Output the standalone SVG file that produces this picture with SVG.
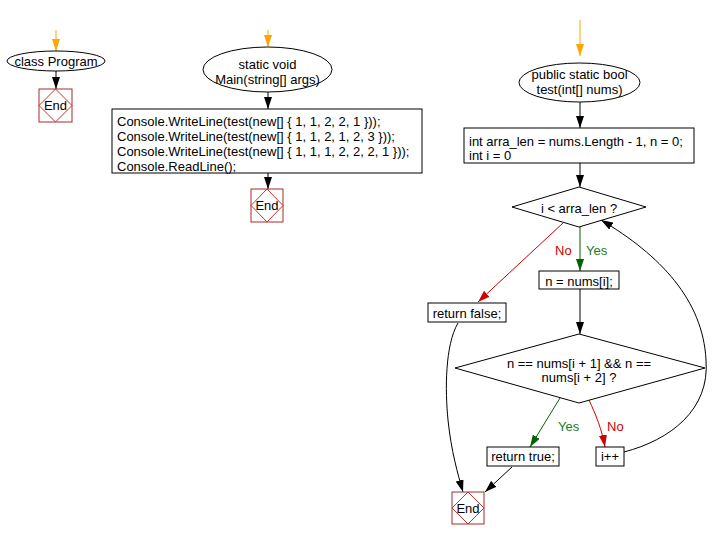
<svg xmlns="http://www.w3.org/2000/svg" width="722" height="540" viewBox="0 0 722 540">
<style>
text{font-family:"Liberation Sans",Arial,sans-serif;font-size:13px;fill:#000}
.s{fill:#fff;stroke:#000;stroke-width:1}
.e{fill:#fff;stroke:#a52a2a;stroke-width:1}
.ed{fill:none;stroke:#c83232;stroke-width:1}
.c{fill:none;stroke:#000;stroke-width:1}
.mid{text-anchor:middle;dominant-baseline:central}
.lft{dominant-baseline:central}
</style>
<defs>
<marker id="ab" viewBox="0 0 12 8" markerWidth="12" markerHeight="8" refX="12" refY="4" orient="auto" markerUnits="userSpaceOnUse"><path d="M0,0 L12,4 L0,8 z" fill="#000"/></marker>
<marker id="ao" viewBox="0 0 12 8" markerWidth="12" markerHeight="8" refX="12" refY="4" orient="auto" markerUnits="userSpaceOnUse"><path d="M0,0 L12,4 L0,8 z" fill="#ffa500"/></marker>
<marker id="ag" viewBox="0 0 12 8" markerWidth="12" markerHeight="8" refX="12" refY="4" orient="auto" markerUnits="userSpaceOnUse"><path d="M0,0 L12,4 L0,8 z" fill="#006400"/></marker>
<marker id="ar" viewBox="0 0 12 8" markerWidth="12" markerHeight="8" refX="12" refY="4" orient="auto" markerUnits="userSpaceOnUse"><path d="M0,0 L12,4 L0,8 z" fill="#d00000"/></marker>
</defs>
<g id="connectors">
<line x1="56" y1="30" x2="56" y2="51" stroke="#ffa500" marker-end="url(#ao)"/>
<line x1="56" y1="71" x2="56" y2="89" class="c" marker-end="url(#ab)"/>
<line x1="268" y1="30" x2="268" y2="47" stroke="#ffa500" marker-end="url(#ao)"/>
<line x1="268" y1="92" x2="268" y2="109" class="c" marker-end="url(#ab)"/>
<line x1="268" y1="173" x2="268" y2="189" class="c" marker-end="url(#ab)"/>
<line x1="580" y1="20" x2="580" y2="56" stroke="#ffa500" marker-end="url(#ao)"/>
<line x1="580" y1="102" x2="580" y2="128" class="c" marker-end="url(#ab)"/>
<line x1="580" y1="163" x2="580" y2="187" class="c" marker-end="url(#ab)"/>
<line x1="580" y1="227" x2="580" y2="271" stroke="#006400" marker-end="url(#ag)"/>
<line x1="563" y1="223" x2="478" y2="302" stroke="#d00000" marker-end="url(#ar)"/>
<line x1="580" y1="289" x2="580" y2="334" class="c" marker-end="url(#ab)"/>
<line x1="560" y1="398" x2="530" y2="447" stroke="#006400" marker-end="url(#ag)"/>
<path d="M589,400 C596,415 602,430 605,447" fill="none" stroke="#d00000" marker-end="url(#ar)"/>
<path d="M624,452 C670,440 710,410 706,360 C703,300 660,255 601,220" class="c" marker-end="url(#ab)"/>
<path d="M458,323 C445,345 445,390 448,420 C451,450 458,475 463,492" class="c" marker-end="url(#ab)"/>
<line x1="512" y1="467" x2="485" y2="492" class="c" marker-end="url(#ab)"/>
<text x="586" y="250" class="lft" style="fill:#1e7b1e">Yes</text>
<text x="555" y="250" class="lft" style="fill:#d00000">No</text>
<text x="558" y="426" class="lft" style="fill:#1e7b1e">Yes</text>
<text x="607" y="426" class="lft" style="fill:#d00000">No</text>
</g>
<g id="classProgram">
<ellipse cx="56" cy="61" rx="49" ry="10" class="s"/>
<text x="56" y="61" class="mid">class Program</text>
</g>
<g id="end1">
<rect x="39" y="89" width="33" height="33" class="e"/>
<path d="M55.5,89 L72,105.5 L55.5,122 L39,105.5 z" class="ed"/>
<text x="55.5" y="105.5" class="mid">End</text>
</g>
<g id="main">
<ellipse cx="267.5" cy="69.5" rx="64.5" ry="22.5" class="s"/>
<text x="267.5" y="64" class="mid">static void</text>
<text x="267.5" y="79" class="mid">Main(string[] args)</text>
</g>
<g id="mainBody">
<rect x="112" y="109" width="310" height="64" class="s"/>
<text x="117" y="121" class="lft">Console.WriteLine(test(new[] { 1, 1, 2, 2, 1 }));</text>
<text x="117" y="136" class="lft">Console.WriteLine(test(new[] { 1, 1, 2, 1, 2, 3 }));</text>
<text x="117" y="151" class="lft">Console.WriteLine(test(new[] { 1, 1, 1, 2, 2, 2, 1 }));</text>
<text x="117" y="166" class="lft">Console.ReadLine();</text>
</g>
<g id="end2">
<rect x="251" y="189" width="32" height="33" class="e"/>
<path d="M267,189 L283,205.5 L267,222 L251,205.5 z" class="ed"/>
<text x="267" y="205.5" class="mid">End</text>
</g>
<g id="test">
<ellipse cx="579.5" cy="82.5" rx="60.5" ry="19.5" class="s"/>
<text x="579.5" y="74" class="mid">public static bool</text>
<text x="579.5" y="89" class="mid">test(int[] nums)</text>
</g>
<g id="init">
<rect x="464" y="128" width="230" height="35" class="s"/>
<text x="469" y="141" class="lft">int arra_len = nums.Length - 1, n = 0;</text>
<text x="469" y="155" class="lft">int i = 0</text>
</g>
<g id="cond1">
<path d="M579,187 L646,207 L579,227 L512,207 z" class="s"/>
<text x="579" y="208" class="mid">i &lt; arra_len ?</text>
</g>
<g id="returnFalse">
<rect x="428" y="303" width="78" height="19" class="s"/>
<text x="467" y="313" class="mid">return false;</text>
</g>
<g id="assign">
<rect x="539" y="271" width="80" height="18" class="s"/>
<text x="579" y="281" class="mid">n = nums[i];</text>
</g>
<g id="cond2">
<path d="M579,334 L705,368 L579,403 L455,368 z" class="s"/>
<text x="579" y="363" class="mid">n == nums[i + 1] &amp;&amp; n ==</text>
<text x="579" y="377" class="mid">nums[i + 2] ?</text>
</g>
<g id="returnTrue">
<rect x="487" y="447" width="72" height="19" class="s"/>
<text x="523" y="456.5" class="mid">return true;</text>
</g>
<g id="inc">
<rect x="596" y="447" width="28" height="19" class="s"/>
<text x="610" y="456.5" class="mid">i++</text>
</g>
<g id="end3">
<rect x="452" y="492" width="32" height="32" class="e"/>
<path d="M468,492 L484,508 L468,524 L452,508 z" class="ed"/>
<text x="468" y="508" class="mid">End</text>
</g>
</svg>
